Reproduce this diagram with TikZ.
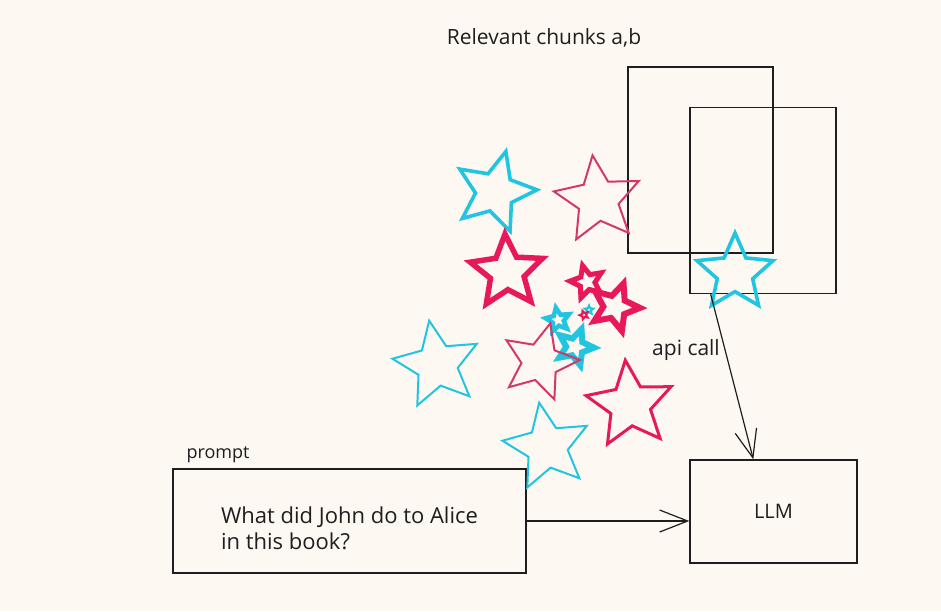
\documentclass[tikz,border=0pt]{standalone}
\usepackage{fontspec}
\setmainfont{Open Sans}
\usepackage{tikz}
\usetikzlibrary{arrows.meta, positioning, shapes.geometric, calc}
\definecolor{paper}{HTML}{FDF8F2}
\definecolor{ink}{HTML}{1E1E1E}
\definecolor{starcyan}{HTML}{22C5DF}
\definecolor{starred}{HTML}{E8195A}
\definecolor{starpink}{HTML}{D2386A}

\begin{document}
\begin{tikzpicture}[
    x=1pt, y=-1pt,
    box/.style={draw=ink, line width=1.4pt, inner sep=0pt},
    star5/.style={star, star points=5, star point ratio=2.15, inner sep=0pt},
    cyanthick/.style={star5, draw=starcyan, line width=3.6pt},
    cyanthin/.style={star5, draw=starcyan, line width=2pt},
    redthick/.style={star5, draw=starred, line width=5pt},
    redmid/.style={star5, draw=starred, line width=3pt},
    pinkthin/.style={star5, draw=starpink, line width=2pt},
    arrow/.style={-{Straight Barb[length=28pt, width=22pt, line width=1.2pt]}, draw=ink, line width=1.2pt},
    label/.style={font=\fontsize{21}{26}\selectfont, text=ink, inner sep=0pt}
]
\fill[paper] (0,0) rectangle (941,611);
\useasboundingbox (0,0) rectangle (941,611);

% Chunks
\node[box, minimum width=145pt, minimum height=186pt] (chunka) at (700.5,160) {};
\node[box, minimum width=146pt, minimum height=186pt] (chunkb) at (763,200.5) {};
\node[label] (chunkslabel) at (544,38) {Relevant chunks a,b};

% Prompt and LLM
\node[box, minimum width=353pt, minimum height=104pt] (prompt) at (349.5,521) {};
\node[label, align=left, font=\fontsize{22}{26}\selectfont] (question) at ($(prompt.center)+(0,7)$)
    {What did John do to Alice\\in this book?};
\node[label, anchor=south west, font=\fontsize{18}{20}\selectfont] (promptlabel) at ($(prompt.north west)+(14,-5)$) {prompt};
\node[box, minimum width=167pt, minimum height=103pt, label, font=\fontsize{20}{22}\selectfont] (llm) at (773.5,511.5) {LLM};

% Stars
\node[cyanthick, minimum size=84pt, rotate=-15] (s1) at (495,192) {};
\node[pinkthin, minimum size=90pt, rotate=7] (s2) at (598,200) {};
\node[redthick, line width=5.5pt, minimum size=76pt, rotate=3] (s3) at (507,272) {};
\node[redthick, line width=5pt, minimum size=34pt, rotate=15] (s4) at (587,282) {};
\node[redthick, line width=6pt, minimum size=50pt, rotate=-20] (s5) at (615,307) {};
\node[cyanthick, line width=2pt, minimum size=9pt] (s6) at (589,310) {};
\node[redthick, line width=2pt, minimum size=9pt, rotate=20] (s7) at (584,315) {};
\node[cyanthick, line width=4.5pt, minimum size=25pt, rotate=10] (s8) at (558,320) {};
\node[cyanthick, line width=6pt, minimum size=38pt, rotate=-20] (s9) at (575,347) {};
\node[pinkthin, minimum size=80pt, rotate=-15] (s10) at (540,362) {};
\node[cyanthin, minimum size=90pt, rotate=10] (s11) at (437,365) {};
\node[redmid, minimum size=90pt, rotate=6] (s12) at (630,405) {};
\node[cyanthin, minimum size=90pt, rotate=10] (s13) at (547,447) {};
\node[cyanthick, minimum size=80pt] (s14) at (735,273) {};

% Arrows
\draw[arrow] ($(chunkb.south west)!0.145!(chunkb.south east)$) -- ($(llm.north west)!0.38!(llm.north east)$);
\node[label] (apilabel) at (686,350) {api call};
\draw[arrow] (prompt.east) -- (prompt.east -| llm.west);

\end{tikzpicture}
\end{document}
